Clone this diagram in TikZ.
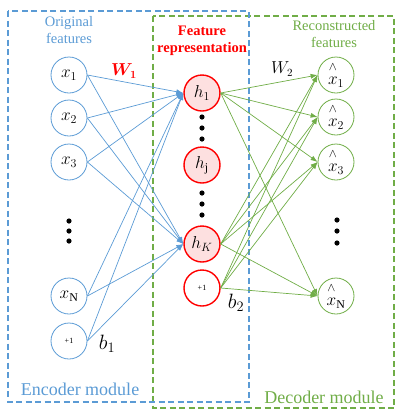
\documentclass[tikz,border=0pt]{standalone}
\usepackage{amsmath,amssymb}
\usepackage{fontspec}
\setmainfont{Liberation Serif}
\usepackage{tikz}
\usetikzlibrary{arrows,arrows.meta,positioning,calc}

\definecolor{encblue}{RGB}{91,155,213}
\definecolor{decgreen}{RGB}{112,173,71}
\definecolor{hidfill}{RGB}{253,224,224}

\newcommand{\rec}[1]{\overset{\raisebox{3pt}{$\scriptstyle\wedge$}}{x}_{#1}}

\tikzset{
  unit/.style={shape=circle,draw,minimum size=36pt,inner sep=0pt,
    font=\fontsize{17}{20}\selectfont},
  inp/.style={unit,encblue,line width=0.8pt,text=black},
  hid/.style={unit,red,line width=1.4pt,fill=hidfill,text=black},
  outp/.style={unit,decgreen,line width=0.8pt,text=black},
  frame/.style={line width=1.3pt,dash pattern=on 6pt off 3.5pt},
  encedge/.style={encblue,line width=0.7pt,-{Latex[length=7pt,width=5pt]}},
  decedge/.style={decgreen,line width=0.7pt,-{Latex[length=7pt,width=5pt]}},
  toplabel/.style={align=center,font=\fontsize{14.5}{17}\selectfont},
  modlabel/.style={font=\fontsize{18}{20}\selectfont},
}

\begin{document}
\begin{tikzpicture}[x=1pt,y=-1pt]
    \useasboundingbox (0,0) rectangle (411,416);

    % module frames
    \draw[frame,decgreen] (153,16) rectangle (394,408);
    \draw[frame,encblue] (8,11) rectangle (249,402);

    % input layer
    \foreach \n/\y in {1/75,2/118,3/162} {
      \node[inp] (x\n) at (69,\y) {$x_\n$};
    }
    \node[inp] (xN) at (69,296) {$x_{\mathrm{N}}$};
    \node[inp] (xb) at (69,341) {\fontsize{8}{9}\selectfont +1};

    % hidden layer
    \node[hid] (h1) at (202,93) {$h_1$};
    \node[hid] (hj) at (202,165) {$h_{\mathrm{j}}$};
    \node[hid] (hK) at (202,244) {$h_K$};
    \node[hid,fill=white] (hb) at (202,288) {\fontsize{8}{9}\selectfont +1};

    % output layer
    \foreach \n/\y in {1/75,2/117,3/162} {
      \node[outp] (o\n) at (336,\y) {$\rec{\n}$};
    }
    \node[outp] (oN) at (336,296) {$\rec{\mathrm{N}}$};

    % dots
    \foreach \y in {221,231,241} \fill (69,\y) circle (2.6);
    \foreach \y in {117,128,139,193,204,215} \fill (202,\y) circle (2.6);
    \foreach \y in {220,231,243} \fill (337,\y) circle (2.6);

    % weights
    \foreach \s in {x1,x2,x3,xN,xb} {
      \foreach \t in {h1,hK} {
        \draw[encedge] (\s.east) -- (\t.west);
      }
    }
    \foreach \s in {h1,hK,hb} {
      \foreach \t in {o1,o2,o3,oN} {
        \draw[decedge] (\s.east) -- (\t.west);
      }
    }

    % labels
    \node[toplabel,encblue] (orig) at (69,30) {Original\\features};
    \node[toplabel,red,font=\fontsize{14.5}{17}\selectfont\bfseries] (feat) at (202,41) {Feature\\representation};
    \node[toplabel,decgreen] (recon) at (334,34) {Reconstructed\\features};
    \node[red,font=\fontsize{16}{18}\selectfont] (w1) at (124,71) {$\boldsymbol{W_1}$};
    \node[font=\fontsize{16}{18}\selectfont] (w2) at (282,69) {$W_2$};
    \node[font=\fontsize{21}{24}\selectfont] (b1) at (107,344) {$b_1$};
    \node[font=\fontsize{21}{24}\selectfont] (b2) at (236,303) {$b_2$};
    \node[modlabel,encblue] (enc) at (80,389) {Encoder module};
    \node[modlabel,decgreen] (dec) at (324,397) {Decoder module};
\end{tikzpicture}
\end{document}
